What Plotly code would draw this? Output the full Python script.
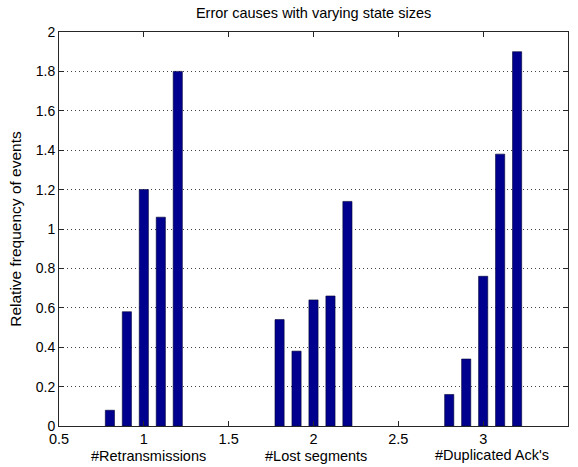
import plotly.graph_objects as go

# Error causes (group centres on the numeric x axis)
group_pos = [1, 2, 3]
group_labels = ["#Retransmissions", "#Lost segments", "#Duplicated Ack's"]

# Relative frequency of events per state size (one series per state size)
size_1 = [0.08, 0.54, 0.16]
size_2 = [0.58, 0.38, 0.34]
size_3 = [1.20, 0.64, 0.76]
size_4 = [1.06, 0.66, 1.38]
size_5 = [1.80, 1.14, 1.90]
series = [size_1, size_2, size_3, size_4, size_5]

x_ticks = [0.5, 1, 1.5, 2, 2.5, 3, 3.5]
y_ticks = [0, 0.2, 0.4, 0.6, 0.8, 1, 1.2, 1.4, 1.6, 1.8, 2]

FONT = "Liberation Sans, Arial, sans-serif"
BAR_COLOR = "#00008F"
AXIS_COLOR = "#262626"

fig = go.Figure()
for vals in series:
    fig.add_trace(go.Bar(
        x=group_pos,
        y=vals,
        marker=dict(color=BAR_COLOR, line=dict(color="#000033", width=0.6)),
        showlegend=False,
    ))

# Category captions under the tick labels
label_shift = [0.03, 0.016, 0.05]
label_y = [-0.075, -0.075, -0.074]
for pos, text, dx, yy in zip(group_pos, group_labels, label_shift, label_y):
    fig.add_annotation(
        x=pos + dx, y=yy, xref="x", yref="paper",
        text=text, showarrow=False,
        font=dict(family=FONT, size=14.5, color="#000000"),
        xanchor="center", yanchor="middle",
    )

fig.update_layout(
    width=578, height=467,
    margin=dict(l=59, r=10, t=32, b=41),
    paper_bgcolor="white", plot_bgcolor="white",
    barmode="group", bargap=0.5, bargroupgap=0.46,
    font=dict(family=FONT, size=14, color="#000000"),
    title=dict(
        text="Error causes with varying state sizes",
        x=0.5425, xanchor="center", y=0.972, yanchor="middle",
        font=dict(family=FONT, size=14.5, color="#000000"),
    ),
)

fig.update_xaxes(
    range=[0.5, 3.5], tickvals=x_ticks, ticktext=[f"{v:g}" for v in x_ticks],
    ticks="inside", ticklen=5, tickcolor=AXIS_COLOR,
    showline=True, linecolor=AXIS_COLOR, linewidth=1, mirror="ticks",
    showgrid=False, zeroline=False, automargin=False,
    tickfont=dict(family=FONT, size=14.5, color="#000000"),
)
fig.update_yaxes(
    range=[0, 2], tickvals=y_ticks, ticktext=[f"{v:g}" for v in y_ticks],
    ticks="inside", ticklen=5, tickcolor=AXIS_COLOR,
    showline=True, linecolor=AXIS_COLOR, linewidth=1, mirror="ticks",
    showgrid=True, gridcolor="#444444", griddash="1px,3px", gridwidth=1,
    zeroline=False, automargin=False,
    tickfont=dict(family=FONT, size=14, color="#000000"),
    title=dict(text="Relative frequency of events", standoff=10,
               font=dict(family=FONT, size=15.5, color="#000000")),
)

fig.write_html("out.html")
